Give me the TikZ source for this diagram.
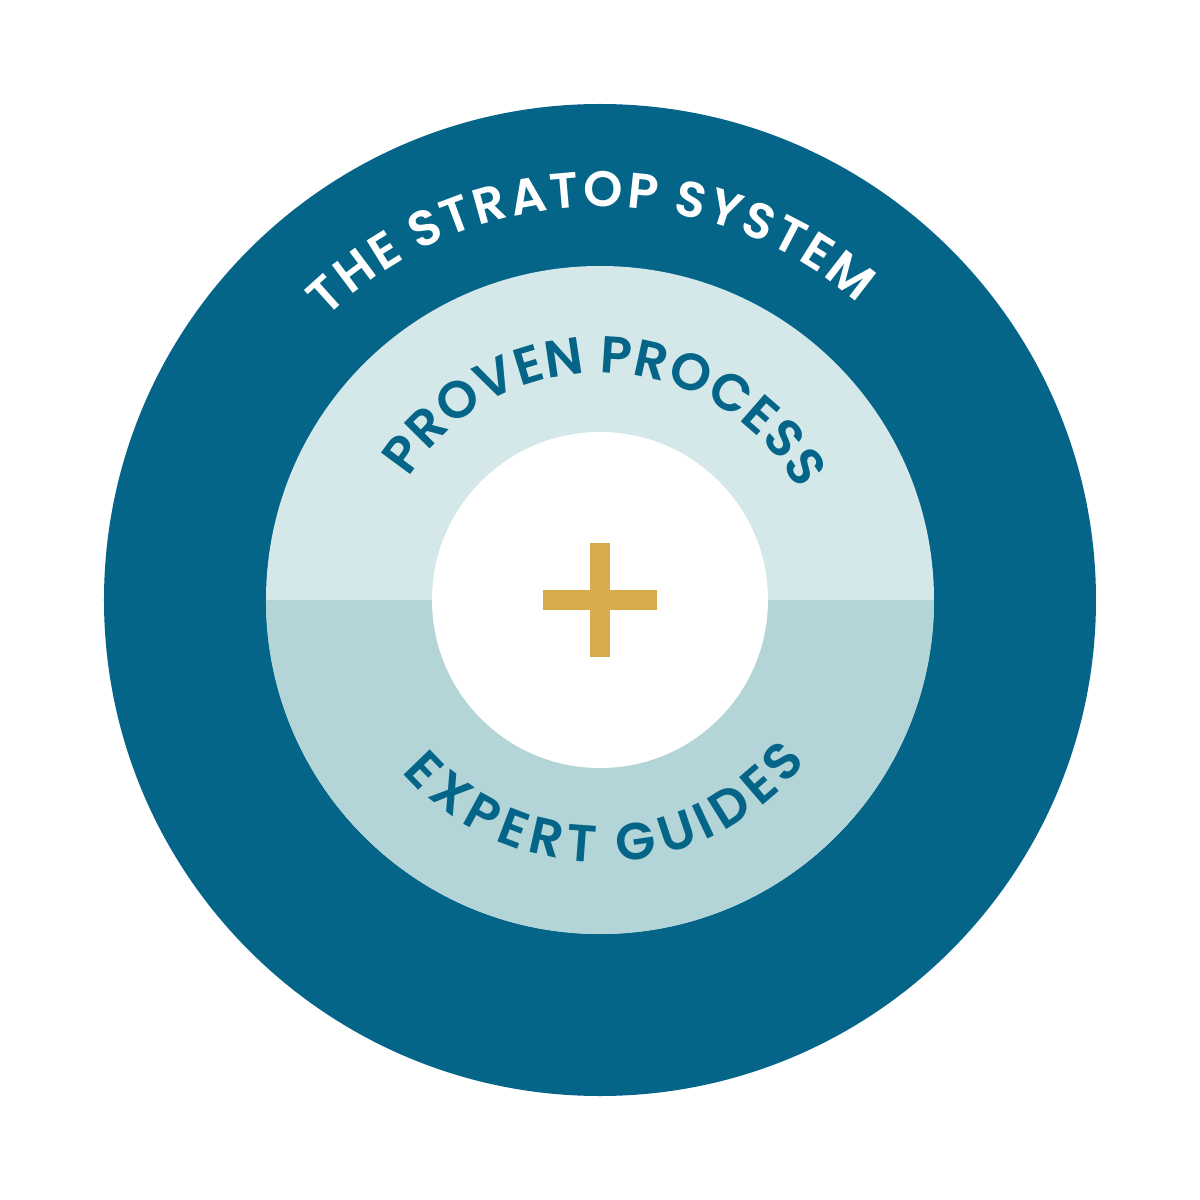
\documentclass[tikz,border=0pt]{standalone}
\usepackage{fontspec}
\setmainfont{Poppins}
\IfFontExistsTF{Poppins SemiBold}
  {\newfontfamily\ringfam{Poppins SemiBold}\let\ringweight\relax}
  {\newfontfamily\ringfam{Poppins}\let\ringweight\bfseries}
\usetikzlibrary{decorations.text}
\definecolor{outerc}{RGB}{4,101,136}
\definecolor{upperc}{RGB}{212,232,234}
\definecolor{lowerc}{RGB}{179,213,216}
\definecolor{goldc}{RGB}{214,172,75}
\newcommand\ringfontA{\ringfam\ringweight\fontsize{50}{58}\selectfont}
\newcommand\ringfontB{\ringfam\ringweight\fontsize{52}{60}\selectfont}
\tikzset{
  ringtext/.style 2 args={decorate, decoration={text effects along path, text={#2},
    text effects/.cd, text along path, fit text to path,
    characters={text=#1, font=\ringfontX}, character widths={font=\ringfontX}}},
}
\begin{document}
\begin{tikzpicture}[x=1pt,y=1pt]
\useasboundingbox (-600,-600) rectangle (600,600);
\fill[white] (-600,-600) rectangle (600,600);
\fill[outerc] (0,0) circle (496);
\fill[upperc] (0,0) circle (334);
\fill[lowerc] (-334,0) arc[start angle=180,end angle=360,radius=334] -- cycle;
\fill[white] (0,0) circle (168);
\fill[goldc] (-10,-57) rectangle (10,57);
\fill[goldc] (-57,-10) rectangle (57,10);
\begin{scope}[font=\ringfontA]
\let\ringfontX\ringfontA
\path[ringtext={white}{THE STRATOP SYSTEM}]
  (134:393) arc[start angle=134, end angle=49, radius=393];
\end{scope}
\begin{scope}[font=\ringfontB]
\let\ringfontX\ringfontB
\path[ringtext={outerc}{PROVEN PROCESS}]
  (147.5:227) arc[start angle=147.5, end angle=29, radius=227];
\path[ringtext={outerc}{EXPERT GUIDES}]
  (221:262) arc[start angle=221, end angle=322, radius=262];
\end{scope}
\end{tikzpicture}
\end{document}
